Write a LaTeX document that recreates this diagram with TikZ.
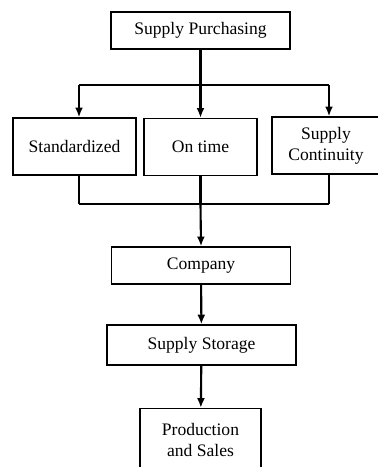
\documentclass[tikz,border=0pt]{standalone}
\usepackage{fontspec}
\setmainfont{Liberation Serif}
\usetikzlibrary{arrows.meta,positioning}

\begin{document}
\begin{tikzpicture}[x=0.02cm, y=-0.02cm,
	basic/.style = {draw, line width=0.8pt, rectangle, align=center, inner sep=2pt},
	wide/.style = {basic, minimum width=3.58cm, minimum height=0.74cm},
	level 2/.style = {basic, minimum height=1.14cm},
	bottom/.style = {basic, minimum width=2.42cm, minimum height=1.26cm},
	link/.style = {line width=1.2pt},
	>={Latex[length=5.5pt,width=4.5pt]}]

	\useasboundingbox (0,0) rectangle (378,467);

	% top of the chart
	\node[wide] (c0) at (200.5,30.5) {Supply Purchasing};

	% the three purchasing criteria
	\node[level 2, minimum width=2.46cm] (c1) at (74.5,146.5) {Standardized};
	\node[level 2, minimum width=2.26cm] (c2) at (200.5,147) {On time};
	\node[level 2, minimum width=2.16cm] (c3) at (326,145.5) {Supply\\Continuity};

	% the flow below
	\node[wide] (c4) at (201,265.5) {Company};
	\node[wide, minimum width=3.78cm, minimum height=0.8cm] (c5) at (201.5,345) {Supply Storage};
	\node[bottom] (c6) at (200.5,440) {Production\\and Sales};

	% bus lines above and below the criteria
	\coordinate (t1) at (79,85);
	\coordinate (t2) at (200.5,85);
	\coordinate (t3) at (329,85);
	\coordinate (b1) at (79,204);
	\coordinate (b2) at (200.5,204);
	\coordinate (b3) at (329,204);

	\draw[link] (c0.south) -- (t2);
	\draw[link] (t1) -- (t3);
	\foreach \value in {1,2,3}
	\draw[link,->] (t\value) -- (t\value |- c\value.north);

	\foreach \value in {1,2,3}
	\draw[link] (b\value |- c\value.south) -- (b\value);
	\draw[link] (b1) -- (b3);
	\draw[link,->] (b2) -- (c4.north);

	\draw[link,->] (c4) -- (c5);
	\draw[link,->] (c5) -- (c6);

\end{tikzpicture}
\end{document}
